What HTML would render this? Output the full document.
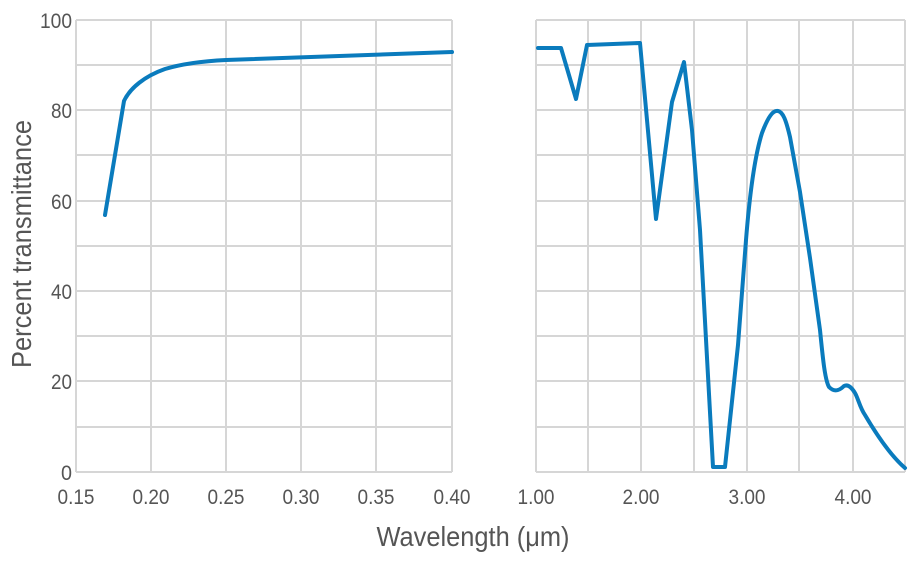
<!DOCTYPE html>
<html><head><style>body{margin:0;background:#fff}svg{display:block}text{font-family:"Liberation Sans Narrow","Liberation Sans",sans-serif;fill:#555}</style></head><body>
<svg width="920" height="561" xmlns="http://www.w3.org/2000/svg">
<g stroke="#d6d6d6" stroke-width="2" fill="none">
<path d="M76 20V472M151 20V472M226 20V472M301 20V472M376 20V472M452 20V472"/>
<path d="M76 20H452M76 65H452M76 110H452M76 155H452M76 201H452M76 246H452M76 291H452M76 336H452M76 381H452M76 427H452M76 472H452"/>
<path d="M536 20V472M588 20V472M641 20V472M694 20V472M747 20V472M799 20V472M853 20V472M905 20V472"/>
<path d="M536 20H905M536 65H905M536 110H905M536 155H905M536 201H905M536 246H905M536 291H905M536 336H905M536 381H905M536 427H905M536 472H905"/>
</g>
<g stroke="#0a7bbd" stroke-width="4" fill="none" stroke-linejoin="round" stroke-linecap="round">
<path d="M105 215L124 101C130 88 145 76 165 69C185 63 205 61 226 60L452 52"/>
<path d="M538 48L561 48L576 99L587 45L640 43L656 219L672 102L684 62L692 130L700 230L713 467L725 467L738 345L746 240C750 190 755 155 762 133C768 117 773 110 778 111C783 112 786 120 790 137L800 192L810 258L820 330C823 360 825 380 829 387C835 393 840 390 844 386C848 384 852 388 855 393C858 398 860 408 865 415C875 432 890 455 905 468"/>
</g>
<g font-size="21" text-anchor="end" lengthAdjust="spacingAndGlyphs">
<text x="72" y="28" textLength="32" lengthAdjust="spacingAndGlyphs">100</text><text x="72" y="118" textLength="21" lengthAdjust="spacingAndGlyphs">80</text><text x="72" y="209" textLength="21" lengthAdjust="spacingAndGlyphs">60</text><text x="72" y="299" textLength="21" lengthAdjust="spacingAndGlyphs">40</text><text x="72" y="389" textLength="21" lengthAdjust="spacingAndGlyphs">20</text><text x="72" y="480" textLength="11" lengthAdjust="spacingAndGlyphs">0</text>
</g>
<g font-size="21" text-anchor="middle">
<text x="76" y="504" textLength="37" lengthAdjust="spacingAndGlyphs">0.15</text><text x="151" y="504" textLength="37" lengthAdjust="spacingAndGlyphs">0.20</text><text x="226" y="504" textLength="37" lengthAdjust="spacingAndGlyphs">0.25</text><text x="301" y="504" textLength="37" lengthAdjust="spacingAndGlyphs">0.30</text><text x="376" y="504" textLength="37" lengthAdjust="spacingAndGlyphs">0.35</text><text x="452" y="504" textLength="37" lengthAdjust="spacingAndGlyphs">0.40</text>
<text x="536" y="504" textLength="37" lengthAdjust="spacingAndGlyphs">1.00</text><text x="641" y="504" textLength="37" lengthAdjust="spacingAndGlyphs">2.00</text><text x="747" y="504" textLength="37" lengthAdjust="spacingAndGlyphs">3.00</text><text x="853" y="504" textLength="37" lengthAdjust="spacingAndGlyphs">4.00</text>
</g>
<text x="473" y="546" font-size="28" text-anchor="middle" textLength="193" lengthAdjust="spacingAndGlyphs">Wavelength (μm)</text>
<text transform="translate(31,244) rotate(-90)" font-size="28" text-anchor="middle" textLength="248" lengthAdjust="spacingAndGlyphs">Percent transmittance</text>
</svg>
</body></html>
